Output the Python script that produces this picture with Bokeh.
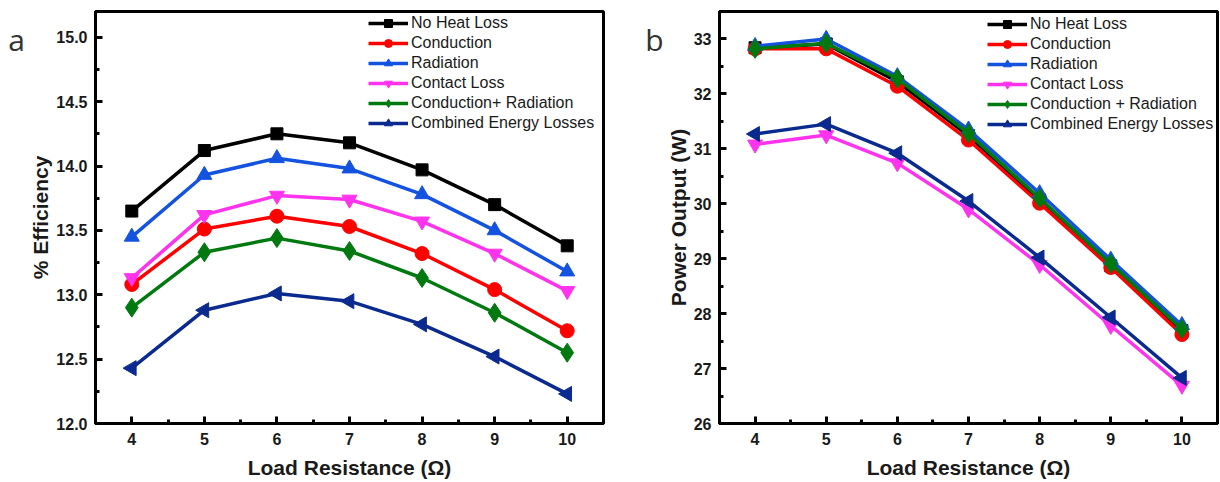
import numpy as np
from bokeh.plotting import figure
from bokeh.layouts import row
from bokeh.models import (Range1d, SingleIntervalTicker, NumeralTickFormatter,
                          Legend)
from bokeh.core.properties import value
from bokeh.embed import file_html
from bokeh.resources import INLINE

# ---------------- data ----------------
load_resistance = [4, 5, 6, 7, 8, 9, 10]

series_names = ["No Heat Loss", "Conduction", "Radiation", "Contact Loss",
                "Conduction+ Radiation", "Combined Energy Losses"]
series_names_b = ["No Heat Loss", "Conduction", "Radiation", "Contact Loss",
                  "Conduction + Radiation", "Combined Energy Losses"]

eff_no_heat_loss = [13.65, 14.12, 14.25, 14.18, 13.97, 13.70, 13.38]
eff_conduction = [13.08, 13.51, 13.61, 13.53, 13.32, 13.04, 12.72]
eff_radiation = [13.45, 13.93, 14.06, 13.98, 13.78, 13.50, 13.18]
eff_contact = [13.13, 13.62, 13.77, 13.74, 13.57, 13.32, 13.03]
eff_cond_rad = [12.90, 13.33, 13.44, 13.34, 13.13, 12.86, 12.55]
eff_combined = [12.43, 12.88, 13.01, 12.95, 12.77, 12.52, 12.23]

pow_no_heat_loss = [32.84, 32.91, 32.22, 31.24, 30.07, 28.87, 27.69]
pow_conduction = [32.82, 32.82, 32.14, 31.16, 30.01, 28.84, 27.62]
pow_radiation = [32.87, 33.00, 32.32, 31.35, 30.19, 28.98, 27.79]
pow_contact = [31.08, 31.25, 30.74, 29.90, 28.89, 27.78, 26.69]
pow_cond_rad = [32.82, 32.92, 32.28, 31.28, 30.10, 28.91, 27.72]
pow_combined = [31.27, 31.45, 30.92, 30.05, 29.02, 27.93, 26.83]

panel_letters = ["a", "b"]

colors = ["#000000", "#FF0000", "#1452E0", "#FF33EE", "#007A10", "#0B2A8F"]
markers = ["square", "circle", "triangle", "inverted_triangle", "diamond", "triangle"]
marker_sizes = [12, 14, 15, 15, 19, 15]
marker_angles = [0, 0, 0, 0, 0, np.pi / 2]

FONT = "Liberation Sans"
HEIGHT = 482
BORDER_TOP = 11
BORDER_BOTTOM = 59
FRAME_H = HEIGHT - BORDER_TOP - BORDER_BOTTOM


def style_axes(p, y_interval, y_fmt):
    for ax in (p.xaxis[0], p.yaxis[0]):
        ax.axis_line_width = 3
        ax.major_tick_line_width = 3
        ax.minor_tick_line_width = 3
        ax.major_tick_in = 7
        ax.major_tick_out = 0
        ax.minor_tick_in = 4
        ax.minor_tick_out = 0
        ax.major_label_text_font = FONT
        ax.major_label_text_font_style = "bold"
        ax.major_label_text_font_size = "16px"
        ax.major_label_text_color = "#1a1a1a"
        ax.axis_label_text_font = FONT
        ax.axis_label_text_font_style = "bold"
        ax.axis_label_text_font_size = "21px"
        ax.axis_label_text_color = "#1a1a1a"
    p.xaxis[0].ticker = SingleIntervalTicker(interval=1, num_minor_ticks=2)
    p.yaxis[0].ticker = SingleIntervalTicker(interval=y_interval, num_minor_ticks=2)
    p.yaxis[0].formatter = NumeralTickFormatter(format=y_fmt)
    p.xaxis[0].major_label_standoff = 9
    p.xaxis[0].axis_label_standoff = 8
    p.yaxis[0].major_label_standoff = 8
    p.yaxis[0].axis_label_standoff = 1
    p.grid.visible = False
    p.outline_line_color = "black"
    p.outline_line_width = 3
    p.outline_line_alpha = 1


def make_panel(ys, names, y_range, y_interval, y_fmt, ylabel, width,
               border_left, border_right, legend_x, legend_top_gap):
    p = figure(width=width, height=HEIGHT, output_backend="svg",
               toolbar_location=None,
               x_range=Range1d(3.5, 10.5), y_range=Range1d(*y_range),
               min_border_left=border_left, min_border_right=border_right,
               min_border_top=BORDER_TOP, min_border_bottom=BORDER_BOTTOM,
               background_fill_color="white", border_fill_color="white")
    p.xaxis.axis_label = "Load Resistance (\u03a9)"
    p.yaxis.axis_label = ylabel
    style_axes(p, y_interval, y_fmt)

    items = []
    for y, name, c, m, s, a in zip(ys, names, colors, markers, marker_sizes, marker_angles):
        r1 = p.line(load_resistance, y, line_color=c, line_width=3.5)
        r2 = p.scatter(load_resistance, y, marker=m, size=s, angle=a,
                       fill_color=c, line_color=c, line_width=1)
        items.append((name, [r1, r2]))

    n = len(items)
    gh = 20
    leg_h = n * gh
    legend = Legend(items=items,
                    location=(legend_x, FRAME_H - legend_top_gap - leg_h))
    legend.border_line_color = None
    legend.background_fill_alpha = 0
    legend.padding = 0
    legend.spacing = 0
    legend.margin = 0
    legend.glyph_width = 40
    legend.glyph_height = gh
    legend.label_height = gh
    legend.label_standoff = 3
    legend.label_text_font = FONT
    legend.label_text_font_size = "16px"
    legend.label_text_color = "#1a1a1a"
    p.add_layout(legend)
    return p


def letter_panel(letter, width, cx):
    f = figure(width=width, height=HEIGHT, output_backend="svg",
               toolbar_location=None, x_axis_type=None, y_axis_type=None,
               x_range=Range1d(0, width), y_range=Range1d(HEIGHT, 0),
               min_border=0, min_border_left=0, min_border_right=0,
               min_border_top=0, min_border_bottom=0,
               outline_line_color=None, background_fill_color="white",
               border_fill_color="white")
    f.grid.visible = False
    f.text(x=[cx], y=[33], text=[letter], text_font=value("Open Sans"),
           text_font_size="30px", text_color="#333333",
           text_align="center", text_baseline="middle")
    return f


fa = letter_panel(panel_letters[0], 26, 16)
p1 = make_panel([eff_no_heat_loss, eff_conduction, eff_radiation, eff_contact,
                 eff_cond_rad, eff_combined], series_names,
                (12.0, 15.2), 0.5, "0.0", "% Efficiency", 614, 69, 37,
                273, 2)
fb = letter_panel(panel_letters[1], 23, 14)
p2 = make_panel([pow_no_heat_loss, pow_conduction, pow_radiation, pow_contact,
                 pow_cond_rad, pow_combined], series_names_b,
                (26.0, 33.5), 1, "0", "Power Output (W)", 557, 55, 3,
                268, 3)

layout = row(fa, p1, fb, p2)
open("out.html", "w").write(file_html(layout, INLINE))
